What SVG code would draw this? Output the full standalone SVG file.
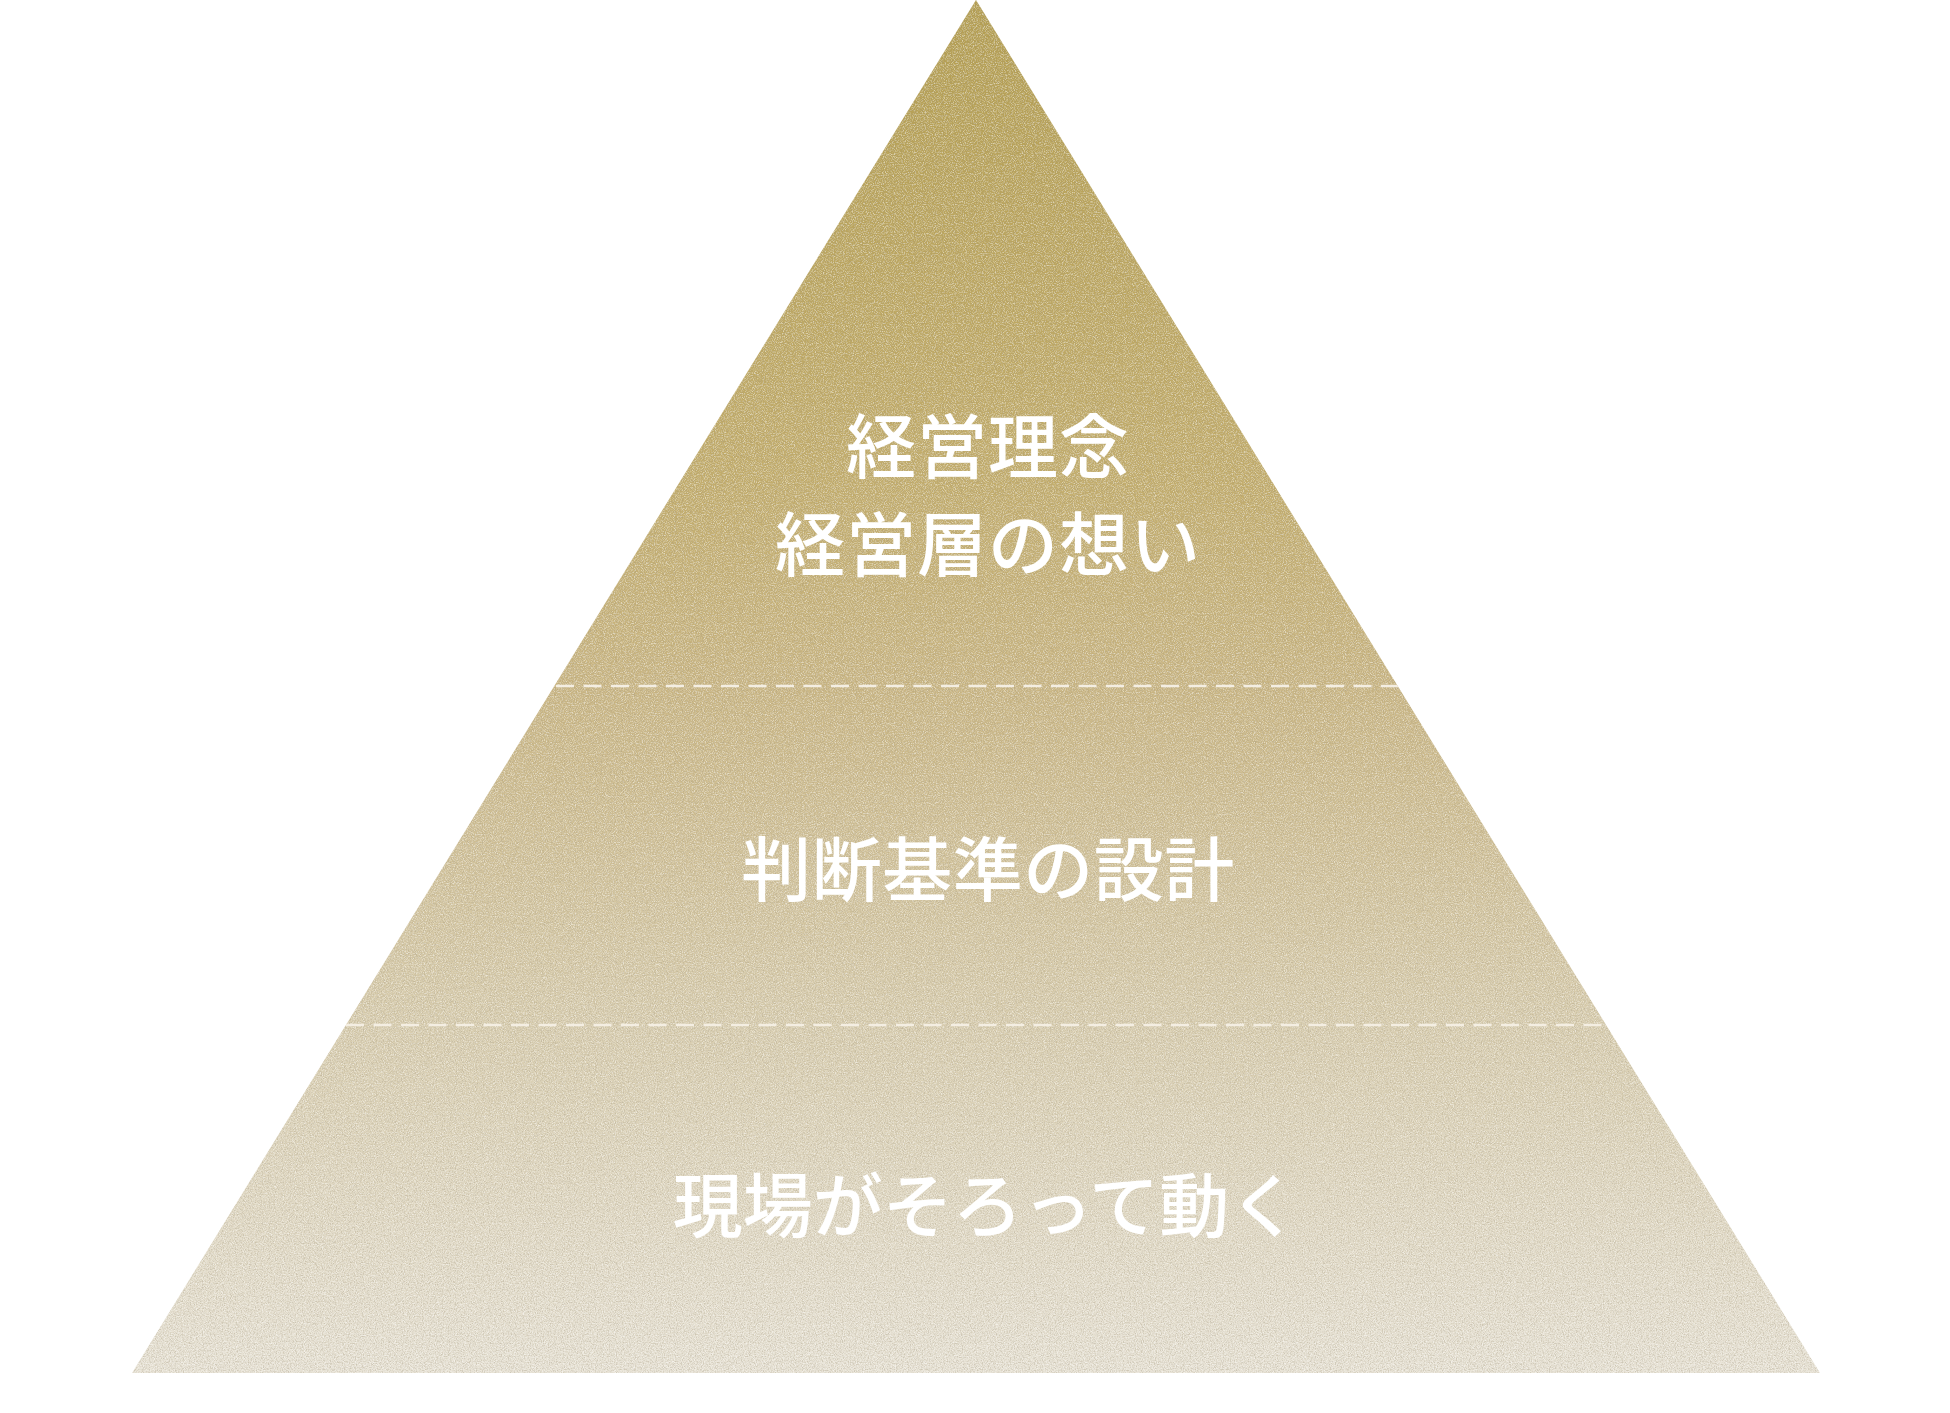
<svg xmlns="http://www.w3.org/2000/svg" width="1950" height="1413" viewBox="0 0 1950 1413">
  <defs>
    <linearGradient id="pyrGrad" x1="0" y1="0" x2="0" y2="1373" gradientUnits="userSpaceOnUse">
      <stop offset="0" stop-color="#b49e50"/>
      <stop offset="0.35" stop-color="#c3ad6b"/>
      <stop offset="0.5" stop-color="#cab683"/>
      <stop offset="0.75" stop-color="#d9ceb0"/>
      <stop offset="1" stop-color="#e8e3d6"/>
    </linearGradient>
    <filter id="grain" x="0" y="0" width="1" height="1" filterUnits="objectBoundingBox">
      <feTurbulence type="fractalNoise" baseFrequency="0.9" numOctaves="2" seed="7" result="noise"/>
      <feColorMatrix in="noise" type="matrix" values="0 0 0 0 1  0 0 0 0 1  0 0 0 0 1  3 0 0 0 -1.3" result="light"/>
      <feComposite in="light" in2="SourceGraphic" operator="in"/>
    </filter>
    <filter id="grainDark" x="0" y="0" width="1" height="1" filterUnits="objectBoundingBox">
      <feTurbulence type="fractalNoise" baseFrequency="0.85" numOctaves="2" seed="19" result="noise"/>
      <feColorMatrix in="noise" type="matrix" values="0 0 0 0 0.35  0 0 0 0 0.3  0 0 0 0 0.2  3 0 0 0 -1.3" result="dark"/>
      <feComposite in="dark" in2="SourceGraphic" operator="in"/>
    </filter>
    <clipPath id="pyrClip">
      <polygon points="976,0 1820,1373 132,1373"/>
    </clipPath>
  </defs>
  <style>
    .label { font-family: "Noto Sans CJK JP", "Noto Sans CJK SC", sans-serif; font-size: 70px; font-weight: 500; fill: #ffffff; text-anchor: middle; }
    .divider { stroke: #f4eee2; stroke-width: 2.5; stroke-dasharray: 18 9.5; fill: none; }
  </style>
  <rect width="1950" height="1413" fill="#ffffff"/>
  <g id="pyramid">
    <polygon points="976,0 1820,1373 132,1373" fill="url(#pyrGrad)"/>
    <polygon points="976,0 1820,1373 132,1373" fill="#000" filter="url(#grain)" opacity="0.5"/>
    <polygon points="976,0 1820,1373 132,1373" fill="#000" filter="url(#grainDark)" opacity="0.35"/>
  </g>
  <g id="connectors" clip-path="url(#pyrClip)">
    <line class="divider" x1="556" y1="686" x2="1398" y2="686"/>
    <line class="divider" x1="346" y1="1025" x2="1606" y2="1025"/>
  </g>
  <g id="tier-top">
    <text class="label" x="988" y="473" letter-spacing="1">経営理念</text>
    <text class="label" x="988" y="571" letter-spacing="1">経営層の想い</text>
  </g>
  <g id="tier-middle">
    <text class="label" x="988" y="896" letter-spacing="0.5">判断基準の設計</text>
  </g>
  <g id="tier-bottom">
    <text class="label" x="986" y="1232">現場がそろって動く</text>
  </g>
</svg>
